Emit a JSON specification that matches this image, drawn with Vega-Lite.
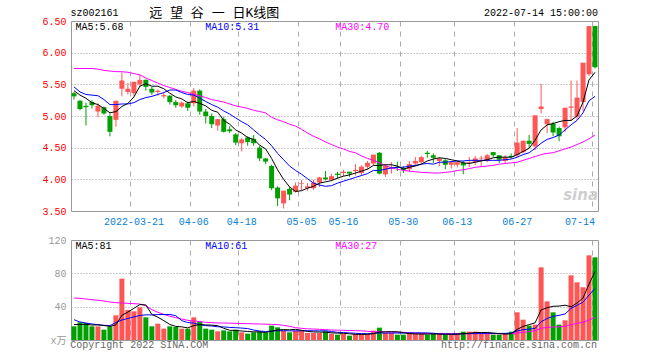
{
"$schema": "https://vega.github.io/schema/vega-lite/v6.json",
"background": "white",
"padding": {"left": 41, "top": 6, "right": 10, "bottom": 4},
"bounds": "flush",
"spacing": 29,
"config": {
  "font": "Liberation Mono",
  "view": {"stroke": "#999", "strokeWidth": 1},
  "axis": {"labelFont": "Liberation Mono, Noto Sans CJK SC", "labelFontSize": 10, "ticks": false, "domain": false, "labelOverlap": false}
},
"data": {"values": [
{"d":"2022-03-07","o":5.36,"h":5.38,"l":5.26,"c":5.31,"v":16.4,"m5":5.40,"m10":5.46,"m30":5.75,"v5":18.4,"v10":24.4,"v30":50.4},
{"d":"2022-03-08","o":5.24,"h":5.25,"l":5.09,"c":5.11,"v":21.2,"m5":5.33,"m10":5.38,"m30":5.75,"v5":18.8,"v10":21.6,"v30":50.0},
{"d":"2022-03-09","o":5.16,"h":5.21,"l":4.85,"c":5.14,"v":20.4,"m5":5.28,"m10":5.34,"m30":5.75,"v5":18.8,"v10":20.4,"v30":49.2},
{"d":"2022-03-10","o":5.22,"h":5.25,"l":5.12,"c":5.17,"v":16.4,"m5":5.21,"m10":5.33,"m30":5.75,"v5":18.0,"v10":19.2,"v30":48.4},
{"d":"2022-03-11","o":5.07,"h":5.20,"l":4.98,"c":5.16,"v":16.4,"m5":5.18,"m10":5.32,"m30":5.74,"v5":18.16,"v10":18.4,"v30":47.6},
{"d":"2022-03-14","o":5.14,"h":5.15,"l":5.02,"c":5.04,"v":12.4,"m5":5.12,"m10":5.26,"m30":5.72,"v5":17.36,"v10":17.6,"v30":46.8},
{"d":"2022-03-15","o":5.00,"h":5.04,"l":4.68,"c":4.75,"v":16.4,"m5":5.05,"m10":5.18,"m30":5.71,"v5":16.4,"v10":17.2,"v30":45.6},
{"d":"2022-03-16","o":4.94,"h":5.24,"l":4.83,"c":5.24,"v":29.6,"m5":5.07,"m10":5.18,"m30":5.70,"v5":18.24,"v10":21.0,"v30":44.8},
{"d":"2022-03-17","o":5.43,"h":5.69,"l":5.31,"c":5.56,"v":73.6,"m5":5.15,"m10":5.19,"m30":5.70,"v5":29.68,"v10":24.0,"v30":44.4},
{"d":"2022-03-18","o":5.38,"h":5.52,"l":5.34,"c":5.43,"v":36.0,"m5":5.20,"m10":5.19,"m30":5.69,"v5":33.6,"v10":25.88,"v30":44.0},
{"d":"2022-03-21","o":5.36,"h":5.54,"l":5.32,"c":5.54,"v":34.4,"m5":5.30,"m10":5.21,"m30":5.67,"v5":38.0,"v10":27.68,"v30":43.6},
{"d":"2022-03-22","o":5.50,"h":5.65,"l":5.46,"c":5.57,"v":39.2,"m5":5.47,"m10":5.26,"m30":5.65,"v5":42.56,"v10":29.48,"v30":43.2},
{"d":"2022-03-23","o":5.57,"h":5.58,"l":5.40,"c":5.46,"v":27.2,"m5":5.51,"m10":5.29,"m30":5.60,"v5":42.08,"v10":30.16,"v30":41.0},
{"d":"2022-03-24","o":5.43,"h":5.46,"l":5.33,"c":5.37,"v":16.4,"m5":5.47,"m10":5.31,"m30":5.56,"v5":30.64,"v10":30.16,"v30":36.4},
{"d":"2022-03-25","o":5.38,"h":5.42,"l":5.32,"c":5.40,"v":19.6,"m5":5.47,"m10":5.34,"m30":5.52,"v5":27.36,"v10":30.48,"v30":33.2},
{"d":"2022-03-28","o":5.31,"h":5.38,"l":5.28,"c":5.33,"v":13.6,"m5":5.43,"m10":5.37,"m30":5.48,"v5":23.2,"v10":30.6,"v30":30.8},
{"d":"2022-03-29","o":5.32,"h":5.33,"l":5.18,"c":5.22,"v":16.4,"m5":5.36,"m10":5.41,"m30":5.45,"v5":18.64,"v10":30.6,"v30":28.4},
{"d":"2022-03-30","o":5.22,"h":5.25,"l":5.13,"c":5.17,"v":15.6,"m5":5.30,"m10":5.41,"m30":5.42,"v5":16.32,"v10":29.2,"v30":26.8},
{"d":"2022-03-31","o":5.15,"h":5.23,"l":5.13,"c":5.21,"v":13.6,"m5":5.27,"m10":5.37,"m30":5.39,"v5":15.76,"v10":23.2,"v30":25.2},
{"d":"2022-04-01","o":5.20,"h":5.23,"l":5.08,"c":5.13,"v":13.6,"m5":5.21,"m10":5.34,"m30":5.37,"v5":14.56,"v10":20.96,"v30":23.6},
{"d":"2022-04-06","o":5.20,"h":5.44,"l":5.15,"c":5.40,"v":27.2,"m5":5.23,"m10":5.33,"m30":5.34,"v5":17.28,"v10":20.24,"v30":22.8},
{"d":"2022-04-07","o":5.40,"h":5.42,"l":5.02,"c":5.07,"v":22.4,"m5":5.20,"m10":5.28,"m30":5.32,"v5":18.48,"v10":18.56,"v30":22.0},
{"d":"2022-04-08","o":5.07,"h":5.11,"l":4.88,"c":5.00,"v":13.6,"m5":5.16,"m10":5.23,"m30":5.29,"v5":18.08,"v10":17.2,"v30":21.2},
{"d":"2022-04-11","o":5.00,"h":5.04,"l":4.81,"c":4.87,"v":12.4,"m5":5.09,"m10":5.18,"m30":5.26,"v5":17.84,"v10":16.8,"v30":20.8},
{"d":"2022-04-12","o":4.85,"h":4.95,"l":4.77,"c":4.95,"v":10.4,"m5":5.06,"m10":5.14,"m30":5.24,"v5":17.2,"v10":15.88,"v30":20.4},
{"d":"2022-04-13","o":4.95,"h":4.99,"l":4.74,"c":4.75,"v":11.6,"m5":4.93,"m10":5.08,"m30":5.22,"v5":14.08,"v10":15.68,"v30":20.4},
{"d":"2022-04-14","o":4.79,"h":4.84,"l":4.73,"c":4.76,"v":10.4,"m5":4.87,"m10":5.03,"m30":5.19,"v5":11.68,"v10":15.08,"v30":20.2},
{"d":"2022-04-15","o":4.71,"h":4.73,"l":4.54,"c":4.58,"v":12.4,"m5":4.78,"m10":4.97,"m30":5.16,"v5":11.44,"v10":14.76,"v30":20.0},
{"d":"2022-04-18","o":4.57,"h":4.65,"l":4.44,"c":4.63,"v":9.2,"m5":4.73,"m10":4.91,"m30":5.14,"v5":10.8,"v10":14.32,"v30":19.8},
{"d":"2022-04-19","o":4.66,"h":4.68,"l":4.53,"c":4.59,"v":7.6,"m5":4.66,"m10":4.86,"m30":5.12,"v5":10.24,"v10":13.72,"v30":19.6},
{"d":"2022-04-20","o":4.64,"h":4.70,"l":4.53,"c":4.57,"v":9.2,"m5":4.63,"m10":4.78,"m30":5.09,"v5":9.76,"v10":11.92,"v30":19.4},
{"d":"2022-04-21","o":4.50,"h":4.53,"l":4.29,"c":4.33,"v":10.4,"m5":4.54,"m10":4.70,"m30":5.07,"v5":9.76,"v10":10.72,"v30":19.2},
{"d":"2022-04-22","o":4.33,"h":4.34,"l":4.24,"c":4.28,"v":8.4,"m5":4.48,"m10":4.63,"m30":5.05,"v5":8.96,"v10":10.2,"v30":19.0},
{"d":"2022-04-25","o":4.21,"h":4.23,"l":3.83,"c":3.86,"v":17.2,"m5":4.33,"m10":4.53,"m30":4.98,"v5":10.56,"v10":10.68,"v30":18.8},
{"d":"2022-04-26","o":3.87,"h":3.89,"l":3.58,"c":3.70,"v":15.2,"m5":4.15,"m10":4.41,"m30":4.94,"v5":12.08,"v10":11.16,"v30":18.4},
{"d":"2022-04-27","o":3.62,"h":3.82,"l":3.54,"c":3.82,"v":11.2,"m5":4.00,"m10":4.31,"m30":4.91,"v5":12.48,"v10":11.12,"v30":17.6},
{"d":"2022-04-28","o":3.85,"h":3.88,"l":3.67,"c":3.76,"v":9.2,"m5":3.88,"m10":4.21,"m30":4.87,"v5":12.24,"v10":11.0,"v30":16.4},
{"d":"2022-04-29","o":3.80,"h":3.95,"l":3.79,"c":3.90,"v":11.2,"m5":3.81,"m10":4.14,"m30":4.84,"v5":12.8,"v10":10.88,"v30":14.8},
{"d":"2022-05-05","o":3.93,"h":3.99,"l":3.83,"c":3.94,"v":11.2,"m5":3.82,"m10":4.08,"m30":4.79,"v5":11.6,"v10":11.08,"v30":14.0},
{"d":"2022-05-06","o":3.86,"h":3.94,"l":3.82,"c":3.89,"v":8.4,"m5":3.86,"m10":4.01,"m30":4.73,"v5":10.24,"v10":11.16,"v30":13.4},
{"d":"2022-05-09","o":3.86,"h":3.99,"l":3.83,"c":3.95,"v":8.4,"m5":3.89,"m10":3.94,"m30":4.68,"v5":9.68,"v10":11.08,"v30":13.2},
{"d":"2022-05-10","o":3.95,"h":4.04,"l":3.88,"c":4.03,"v":8.4,"m5":3.94,"m10":3.91,"m30":4.64,"v5":9.52,"v10":10.88,"v30":12.8},
{"d":"2022-05-11","o":4.03,"h":4.13,"l":3.98,"c":4.00,"v":10.4,"m5":3.96,"m10":3.89,"m30":4.59,"v5":9.36,"v10":11.08,"v30":12.4},
{"d":"2022-05-12","o":3.99,"h":4.09,"l":3.98,"c":4.05,"v":7.6,"m5":3.98,"m10":3.90,"m30":4.55,"v5":8.64,"v10":10.12,"v30":12.0},
{"d":"2022-05-13","o":4.09,"h":4.12,"l":4.01,"c":4.07,"v":6.4,"m5":4.02,"m10":3.94,"m30":4.51,"v5":8.24,"v10":9.24,"v30":11.8},
{"d":"2022-05-16","o":4.10,"h":4.15,"l":4.05,"c":4.12,"v":7.6,"m5":4.05,"m10":3.97,"m30":4.48,"v5":8.08,"v10":8.88,"v30":11.6},
{"d":"2022-05-17","o":4.12,"h":4.12,"l":4.04,"c":4.09,"v":5.2,"m5":4.07,"m10":4.00,"m30":4.44,"v5":7.44,"v10":8.48,"v30":11.4},
{"d":"2022-05-18","o":4.13,"h":4.24,"l":4.06,"c":4.15,"v":7.2,"m5":4.10,"m10":4.03,"m30":4.42,"v5":6.8,"v10":8.08,"v30":11.2},
{"d":"2022-05-19","o":4.10,"h":4.22,"l":4.06,"c":4.20,"v":7.2,"m5":4.13,"m10":4.06,"m30":4.37,"v5":6.72,"v10":7.68,"v30":11.0},
{"d":"2022-05-20","o":4.20,"h":4.29,"l":4.16,"c":4.26,"v":7.2,"m5":4.16,"m10":4.09,"m30":4.33,"v5":6.88,"v10":7.56,"v30":10.4},
{"d":"2022-05-23","o":4.25,"h":4.39,"l":4.22,"c":4.39,"v":11.2,"m5":4.22,"m10":4.14,"m30":4.30,"v5":7.6,"v10":7.84,"v30":10.0},
{"d":"2022-05-24","o":4.42,"h":4.43,"l":4.08,"c":4.09,"v":14.8,"m5":4.22,"m10":4.14,"m30":4.26,"v5":9.52,"v10":8.48,"v30":10.0},
{"d":"2022-05-25","o":4.08,"h":4.24,"l":4.04,"c":4.21,"v":8.4,"m5":4.23,"m10":4.16,"m30":4.22,"v5":9.76,"v10":8.28,"v30":9.8},
{"d":"2022-05-26","o":4.17,"h":4.27,"l":4.09,"c":4.19,"v":8.4,"m5":4.23,"m10":4.18,"m30":4.18,"v5":10.0,"v10":8.36,"v30":9.6},
{"d":"2022-05-27","o":4.20,"h":4.28,"l":4.13,"c":4.18,"v":6.4,"m5":4.21,"m10":4.19,"m30":4.16,"v5":9.84,"v10":8.36,"v30":9.4},
{"d":"2022-05-30","o":4.18,"h":4.21,"l":4.10,"c":4.15,"v":6.4,"m5":4.16,"m10":4.19,"m30":4.14,"v5":8.88,"v10":8.24,"v30":9.2},
{"d":"2022-05-31","o":4.16,"h":4.29,"l":4.12,"c":4.24,"v":8.4,"m5":4.19,"m10":4.21,"m30":4.13,"v5":7.6,"v10":8.56,"v30":8.6},
{"d":"2022-06-01","o":4.25,"h":4.35,"l":4.21,"c":4.29,"v":7.2,"m5":4.21,"m10":4.22,"m30":4.12,"v5":7.36,"v10":8.56,"v30":8.2},
{"d":"2022-06-02","o":4.27,"h":4.37,"l":4.25,"c":4.35,"v":7.2,"m5":4.24,"m10":4.24,"m30":4.11,"v5":7.12,"v10":8.56,"v30":8.0},
{"d":"2022-06-06","o":4.42,"h":4.45,"l":4.34,"c":4.40,"v":6.4,"m5":4.29,"m10":4.25,"m30":4.105,"v5":7.12,"v10":8.48,"v30":7.8},
{"d":"2022-06-07","o":4.38,"h":4.41,"l":4.26,"c":4.34,"v":7.6,"m5":4.32,"m10":4.24,"m30":4.10,"v5":7.36,"v10":8.12,"v30":7.6},
{"d":"2022-06-08","o":4.29,"h":4.35,"l":4.21,"c":4.33,"v":7.2,"m5":4.34,"m10":4.27,"m30":4.10,"v5":7.12,"v10":7.36,"v30":7.6},
{"d":"2022-06-09","o":4.30,"h":4.32,"l":4.16,"c":4.23,"v":6.4,"m5":4.33,"m10":4.27,"m30":4.11,"v5":6.96,"v10":7.16,"v30":7.6},
{"d":"2022-06-10","o":4.23,"h":4.29,"l":4.17,"c":4.27,"v":7.2,"m5":4.31,"m10":4.28,"m30":4.12,"v5":6.96,"v10":7.04,"v30":7.6},
{"d":"2022-06-13","o":4.23,"h":4.29,"l":4.19,"c":4.27,"v":7.2,"m5":4.29,"m10":4.29,"m30":4.14,"v5":7.12,"v10":7.12,"v30":7.6},
{"d":"2022-06-14","o":4.26,"h":4.29,"l":4.08,"c":4.22,"v":10.0,"m5":4.26,"m10":4.29,"m30":4.15,"v5":7.6,"v10":7.48,"v30":7.6},
{"d":"2022-06-15","o":4.26,"h":4.35,"l":4.19,"c":4.27,"v":10.0,"m5":4.25,"m10":4.30,"m30":4.17,"v5":8.16,"v10":7.64,"v30":7.6},
{"d":"2022-06-16","o":4.27,"h":4.37,"l":4.23,"c":4.33,"v":10.0,"m5":4.27,"m10":4.30,"m30":4.19,"v5":8.88,"v10":7.92,"v30":7.6},
{"d":"2022-06-17","o":4.33,"h":4.37,"l":4.20,"c":4.34,"v":7.6,"m5":4.29,"m10":4.30,"m30":4.20,"v5":8.96,"v10":7.96,"v30":7.6},
{"d":"2022-06-20","o":4.29,"h":4.40,"l":4.27,"c":4.38,"v":7.6,"m5":4.31,"m10":4.30,"m30":4.21,"v5":9.04,"v10":8.08,"v30":7.6},
{"d":"2022-06-21","o":4.43,"h":4.43,"l":4.35,"c":4.38,"v":6.4,"m5":4.34,"m10":4.30,"m30":4.22,"v5":8.32,"v10":7.96,"v30":7.6},
{"d":"2022-06-22","o":4.38,"h":4.38,"l":4.26,"c":4.31,"v":6.4,"m5":4.35,"m10":4.30,"m30":4.24,"v5":7.6,"v10":7.88,"v30":7.6},
{"d":"2022-06-23","o":4.29,"h":4.38,"l":4.26,"c":4.35,"v":7.6,"m5":4.35,"m10":4.31,"m30":4.25,"v5":7.12,"v10":8.0,"v30":7.6},
{"d":"2022-06-24","o":4.37,"h":4.41,"l":4.33,"c":4.35,"v":10.0,"m5":4.35,"m10":4.32,"m30":4.26,"v5":7.6,"v10":8.28,"v30":7.6},
{"d":"2022-06-27","o":4.38,"h":4.81,"l":4.35,"c":4.58,"v":33.2,"m5":4.39,"m10":4.35,"m30":4.27,"v5":12.72,"v10":10.88,"v30":8.4},
{"d":"2022-06-28","o":4.43,"h":4.61,"l":4.41,"c":4.61,"v":24.4,"m5":4.44,"m10":4.39,"m30":4.30,"v5":16.32,"v10":12.32,"v30":9.2},
{"d":"2022-06-29","o":4.61,"h":4.70,"l":4.49,"c":4.56,"v":17.2,"m5":4.49,"m10":4.42,"m30":4.33,"v5":18.48,"v10":13.04,"v30":10.0},
{"d":"2022-06-30","o":4.52,"h":5.01,"l":4.46,"c":5.01,"v":18.4,"m5":4.62,"m10":4.49,"m30":4.36,"v5":20.64,"v10":13.88,"v30":11.2},
{"d":"2022-07-01","o":5.11,"h":5.51,"l":5.04,"c":5.15,"v":87.2,"m5":4.78,"m10":4.57,"m30":4.39,"v5":36.08,"v10":21.84,"v30":14.0},
{"d":"2022-07-04","o":4.87,"h":4.96,"l":4.73,"c":4.95,"v":46.4,"m5":4.86,"m10":4.63,"m30":4.41,"v5":38.72,"v10":25.72,"v30":15.2},
{"d":"2022-07-05","o":4.88,"h":4.91,"l":4.68,"c":4.74,"v":33.2,"m5":4.88,"m10":4.66,"m30":4.42,"v5":40.48,"v10":28.4,"v30":15.6},
{"d":"2022-07-06","o":4.81,"h":4.83,"l":4.60,"c":4.68,"v":18.4,"m5":4.91,"m10":4.70,"m30":4.45,"v5":40.72,"v10":29.6,"v30":15.8},
{"d":"2022-07-07","o":4.82,"h":5.13,"l":4.75,"c":5.13,"v":23.6,"m5":4.93,"m10":4.78,"m30":4.48,"v5":41.76,"v10":31.2,"v30":16.4},
{"d":"2022-07-08","o":5.13,"h":5.56,"l":4.93,"c":5.15,"v":77.6,"m5":4.93,"m10":4.86,"m30":4.51,"v5":39.84,"v10":37.96,"v30":18.4},
{"d":"2022-07-11","o":4.99,"h":5.56,"l":4.94,"c":5.29,"v":69.2,"m5":5.00,"m10":4.93,"m30":4.55,"v5":44.4,"v10":41.56,"v30":20.0},
{"d":"2022-07-12","o":5.22,"h":5.84,"l":5.08,"c":5.84,"v":63.2,"m5":5.22,"m10":5.05,"m30":4.59,"v5":50.4,"v10":45.44,"v30":21.2},
{"d":"2022-07-13","o":5.66,"h":6.42,"l":5.63,"c":6.42,"v":101.6,"m5":5.57,"m10":5.24,"m30":4.64,"v5":67.04,"v10":53.88,"v30":24.0},
{"d":"2022-07-14","o":6.42,"h":6.42,"l":5.75,"c":5.77,"v":99.2,"m5":5.69,"m10":5.31,"m30":4.70,"v5":82.16,"v10":61.96,"v30":27.2}
]},
"vconcat": [
{
  "width": 527,
  "height": 190,
  "encoding": {
    "x": {"field": "d", "type": "ordinal", "sort": "ascending", "title": null,
      "scale": {"paddingInner": 0, "paddingOuter": 0},
      "axis": {
        "values": ["2022-03-21","2022-04-06","2022-04-18","2022-05-05","2022-05-16","2022-05-30","2022-06-13","2022-06-27","2022-07-14"],
        "labelExpr": "datum.value == '2022-03-21' ? datum.value : substring(datum.value, 5)",
        "bandPosition": 0, "labelAngle": 0, "labelColor": "#0a7fd6", "labelPadding": 5,
        "labelAlign": {"condition": {"test": "datum.value == '2022-07-14'", "value": "right"}, "value": "center"},
        "grid": true, "gridColor": "#aaa", "gridDash": [5, 5]
      }
    }
  },
  "layer": [
    {"data": {"values": [{}]},
     "mark": {"type": "text", "text": "sina", "align": "right", "baseline": "middle", "dx": 3, "font": "DejaVu Sans", "fontSize": 15, "fontStyle": "italic", "fontWeight": "bold", "color": "#cfcfcf"},
     "encoding": {"x": {"datum": "2022-07-14", "type": "ordinal"}, "y": {"datum": 3.75, "type": "quantitative"}}},
    {"mark": {"type": "rule", "strokeWidth": 1},
     "encoding": {
       "y": {"field": "l", "type": "quantitative", "title": null,
         "scale": {"domain": [3.5, 6.5], "nice": false, "zero": false},
         "axis": {"values": [3.5, 4, 4.5, 5, 5.5, 6, 6.5], "tickCount": 20, "format": ".2f", "labelColor": "#ff0000", "labelPadding": 5, "labelOverlap": false,
           "grid": true, "gridColor": "#999", "gridDash": [1, 2],
           "gridOpacity": {"condition": {"test": "datum.value <= 3.5 || datum.value >= 6.5", "value": 0}, "value": 1}}},
       "y2": {"field": "h"},
       "color": {"condition": {"test": "datum.c >= datum.o", "value": "#ff5555"}, "value": "#00a000"}
     }},
    {"mark": {"type": "bar", "width": 5},
     "encoding": {
       "y": {"field": "o", "type": "quantitative"},
       "y2": {"field": "c"},
       "color": {"condition": {"test": "datum.c >= datum.o", "value": "#ff5555"}, "value": "#00a000"}
     }},
    {"mark": {"type": "line", "strokeWidth": 1, "color": "#ff00ff"},
     "encoding": {"y": {"field": "m30", "type": "quantitative"}}},
    {"mark": {"type": "line", "strokeWidth": 1, "color": "#0000ff"},
     "encoding": {"y": {"field": "m10", "type": "quantitative"}}},
    {"mark": {"type": "line", "strokeWidth": 1, "color": "#000000"},
     "encoding": {"y": {"field": "m5", "type": "quantitative"}}},
    {"data": {"values": [{}]},
     "mark": {"type": "text", "text": "sz002161", "align": "left", "baseline": "middle", "dx": -3.5, "dy": -8.5, "fontSize": 10, "color": "#000"},
     "encoding": {"x": {"datum": "2022-03-07", "type": "ordinal"}, "y": {"datum": 6.5, "type": "quantitative"}}},
    {"data": {"values": [{}]},
     "mark": {"type": "text", "text": "远 望 谷 一 日K线图", "align": "center", "baseline": "middle", "dx": 2.5, "dy": -8.5, "font": "Liberation Mono, Noto Sans CJK SC", "fontSize": 13, "color": "#000"},
     "encoding": {"x": {"datum": "2022-04-11", "type": "ordinal"}, "y": {"datum": 6.5, "type": "quantitative"}}},
    {"data": {"values": [{}]},
     "mark": {"type": "text", "text": "2022-07-14 15:00:00", "align": "right", "baseline": "middle", "dx": 3, "dy": -8.5, "fontSize": 10, "color": "#000"},
     "encoding": {"x": {"datum": "2022-07-14", "type": "ordinal"}, "y": {"datum": 6.5, "type": "quantitative"}}},
    {"data": {"values": [{}]},
     "mark": {"type": "text", "text": "MA5:5.68", "align": "left", "baseline": "top", "dx": 1.5, "dy": 1, "fontSize": 10, "color": "#000"},
     "encoding": {"x": {"datum": "2022-03-07", "type": "ordinal"}, "y": {"datum": 6.5, "type": "quantitative"}}},
    {"data": {"values": [{}]},
     "mark": {"type": "text", "text": "MA10:5.31", "align": "left", "baseline": "top", "dx": -0.6, "dy": 1, "fontSize": 10, "color": "#0000ff"},
     "encoding": {"x": {"datum": "2022-04-08", "type": "ordinal"}, "y": {"datum": 6.5, "type": "quantitative"}}},
    {"data": {"values": [{}]},
     "mark": {"type": "text", "text": "MA30:4.70", "align": "left", "baseline": "top", "dx": -2.3, "dy": 1, "fontSize": 10, "color": "#ff00ff"},
     "encoding": {"x": {"datum": "2022-05-13", "type": "ordinal"}, "y": {"datum": 6.5, "type": "quantitative"}}}
  ]
},
{
  "width": 527,
  "height": 100,
  "encoding": {
    "x": {"field": "d", "type": "ordinal", "sort": "ascending", "title": null,
      "scale": {"paddingInner": 0, "paddingOuter": 0},
      "axis": {
        "values": ["2022-03-21","2022-04-06","2022-04-18","2022-05-05","2022-05-16","2022-05-30","2022-06-13","2022-06-27","2022-07-14"],
        "bandPosition": 0, "labels": false,
        "grid": true, "gridColor": "#aaa", "gridDash": [5, 5]
      }
    }
  },
  "layer": [
    {"mark": {"type": "bar", "width": 5},
     "encoding": {
       "y": {"field": "v", "type": "quantitative", "title": null,
         "scale": {"domain": [0, 120], "nice": false},
         "axis": {"values": [0, 40, 80, 120], "tickCount": 20, "labelExpr": "datum.value == 0 ? 'x万' : datum.label", "labelColor": "#999", "labelPadding": 5, "labelOverlap": false,
           "grid": true, "gridColor": "#999", "gridDash": [1, 2],
           "gridOpacity": {"condition": {"test": "datum.value <= 0 || datum.value >= 120", "value": 0}, "value": 1}}},
       "color": {"condition": {"test": "datum.c >= datum.o", "value": "#ff5555"}, "value": "#00a000"}
     }},
    {"mark": {"type": "line", "strokeWidth": 1, "color": "#ff00ff"},
     "encoding": {"y": {"field": "v30", "type": "quantitative"}}},
    {"mark": {"type": "line", "strokeWidth": 1, "color": "#0000ff"},
     "encoding": {"y": {"field": "v10", "type": "quantitative"}}},
    {"mark": {"type": "line", "strokeWidth": 1, "color": "#000000"},
     "encoding": {"y": {"field": "v5", "type": "quantitative"}}},
    {"data": {"values": [{}]},
     "mark": {"type": "text", "text": "MA5:81", "align": "left", "baseline": "top", "dx": 1.5, "dy": 1, "fontSize": 10, "color": "#000"},
     "encoding": {"x": {"datum": "2022-03-07", "type": "ordinal"}, "y": {"datum": 120, "type": "quantitative"}}},
    {"data": {"values": [{}]},
     "mark": {"type": "text", "text": "MA10:61", "align": "left", "baseline": "top", "dx": -0.6, "dy": 1, "fontSize": 10, "color": "#0000ff"},
     "encoding": {"x": {"datum": "2022-04-08", "type": "ordinal"}, "y": {"datum": 120, "type": "quantitative"}}},
    {"data": {"values": [{}]},
     "mark": {"type": "text", "text": "MA30:27", "align": "left", "baseline": "top", "dx": -2.3, "dy": 1, "fontSize": 10, "color": "#ff00ff"},
     "encoding": {"x": {"datum": "2022-05-13", "type": "ordinal"}, "y": {"datum": 120, "type": "quantitative"}}},
    {"data": {"values": [{}]},
     "mark": {"type": "text", "text": "Copyright 2022 SINA.COM", "align": "left", "baseline": "middle", "dx": -3.8, "dy": 5, "fontSize": 10, "color": "#666"},
     "encoding": {"x": {"datum": "2022-03-07", "type": "ordinal"}, "y": {"datum": 0, "type": "quantitative"}}},
    {"data": {"values": [{}]},
     "mark": {"type": "text", "text": "http://finance.sina.com.cn", "align": "right", "baseline": "middle", "dx": 2, "dy": 5, "fontSize": 10, "color": "#666"},
     "encoding": {"x": {"datum": "2022-07-14", "type": "ordinal"}, "y": {"datum": 0, "type": "quantitative"}}}
  ]
}
]
}
